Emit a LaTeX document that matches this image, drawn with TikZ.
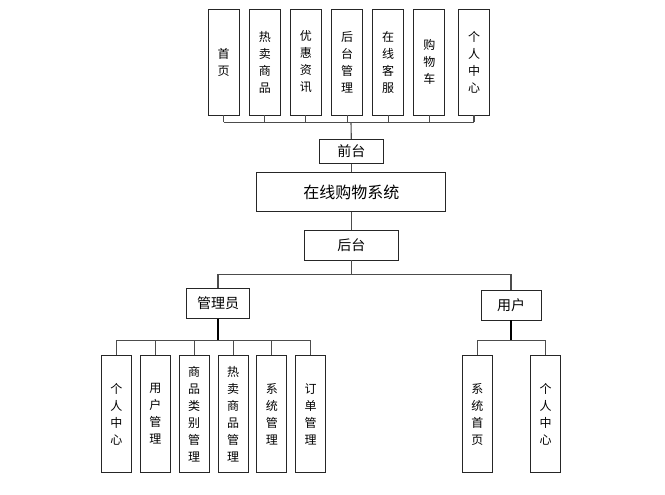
\documentclass[tikz,border=0pt]{standalone}
\usepackage{fontspec}
\newfontfamily\cjk{Noto Sans CJK SC}
\begin{document}
\begin{tikzpicture}[x=1pt,y=-1pt,
  box/.style={draw=black!85, line width=0.9pt, fill=white, inner sep=0pt, font=\cjk\fontsize{14}{17}\selectfont},
  vbox/.style={box, minimum width=31pt, minimum height=106pt, align=center, font=\cjk\fontsize{12}{17}\selectfont},
  lbox/.style={vbox, minimum width=30pt, minimum height=117pt},
  conn/.style={draw=black!70, line width=1.1pt}]
\useasboundingbox (0,0) rectangle (665,495);
% top modules
\node[vbox] (t1) at (223.6,62) {首\\页};
\node[vbox] (t2) at (264.8,62) {热\\卖\\商\\品};
\node[vbox] (t3) at (305.8,62) {优\\惠\\资\\讯};
\node[vbox] (t4) at (347.2,62) {后\\台\\管\\理};
\node[vbox] (t5) at (388.2,62) {在\\线\\客\\服};
\node[vbox] (t6) at (429.4,62) {购\\物\\车};
\node[vbox] (t7) at (474,62) {个\\人\\中\\心};
\coordinate (bus1) at (351,122.3);
% center column
\node[box, minimum width=64pt, minimum height=24pt] (qt) at (351.3,151.3) {前台};
\node[box, minimum width=189pt, minimum height=39pt, font=\cjk\fontsize{16}{18}\selectfont] (sys) at (351.3,192.2) {在线购物系统};
\node[box, minimum width=94pt, minimum height=30pt] (ht) at (351.3,245) {后台};
\coordinate (bus2) at (351.3,274.7);
% roles
\node[box, minimum width=62.6pt, minimum height=30pt] (gly) at (218,303.3) {管理员};
\node[box, minimum width=60pt, minimum height=30pt] (yh) at (511,305) {用户};
\coordinate (bus3) at (218,340.3);
\coordinate (bus4) at (511,340.3);
% admin modules
\node[lbox] (a1) at (116.3,414) {个\\人\\中\\心};
\node[lbox] (a2) at (155.3,414) {用\\户\\管\\理};
\node[lbox] (a3) at (194.2,414) {商\\品\\类\\别\\管\\理};
\node[lbox] (a4) at (233.2,414) {热\\卖\\商\\品\\管\\理};
\node[lbox] (a5) at (271.9,414) {系\\统\\管\\理};
\node[lbox] (a6) at (310.7,414) {订\\单\\管\\理};
% user modules
\node[lbox] (u1) at (477.3,414) {系\\统\\首\\页};
\node[lbox] (u2) at (545.7,414) {个\\人\\中\\心};
% connectors top
\foreach \n in {t1,t2,t3,t4,t5,t6,t7}
  \draw[conn] (\n.south) -- (\n.south |- bus1);
\draw[conn] (t1.south |- bus1) -- (t7.south |- bus1);
\draw[conn] (bus1) -- (qt.north);
\draw[conn] (qt.south) -- (sys.north);
\draw[conn] (sys.south) -- (ht.north);
\draw[conn] (ht.south) -- (bus2);
\draw[conn] (gly.north) |- (bus2) -| (yh.north);
% admin
\draw[conn, draw=black, line width=1.4pt] (gly.south) -- (bus3);
\foreach \n in {a1,a2,a3,a4,a5,a6}
  \draw[conn] (\n.north) -- (\n.north |- bus3);
\draw[conn] (a1.north |- bus3) -- (a6.north |- bus3);
% user
\draw[conn, draw=black, line width=1.4pt] (yh.south) -- (bus4);
\foreach \n in {u1,u2}
  \draw[conn] (\n.north) -- (\n.north |- bus4);
\draw[conn] (u1.north |- bus4) -- (u2.north |- bus4);
\end{tikzpicture}
\end{document}
